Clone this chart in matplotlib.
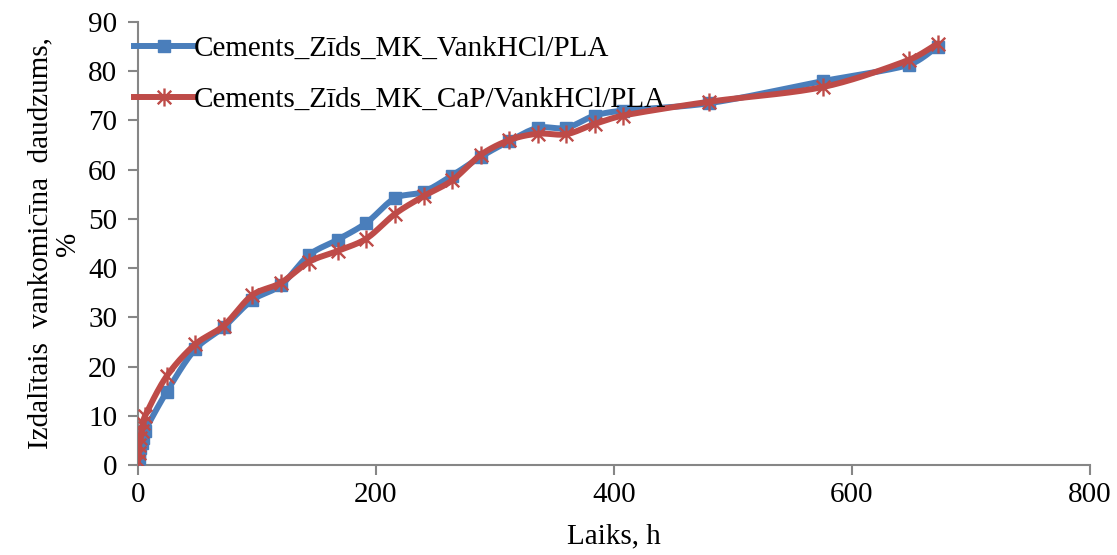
import numpy as np
import matplotlib
matplotlib.use("Agg")
import matplotlib.pyplot as plt
from matplotlib.path import Path
from matplotlib.lines import Line2D

plt.rcParams['font.family'] = ['Liberation Serif', 'DejaVu Serif']

hours = [0, 0.5, 1, 2, 3, 4, 6, 24, 48, 72, 96, 120, 144, 168, 192, 216, 240,
         264, 288, 312, 336, 360, 384, 408, 480, 576, 648, 672]
blue_vals = [0.5, 1.5, 2.5, 3.5, 4.5, 5.5, 7.0, 14.8, 23.5, 28.0, 33.5, 36.5,
             42.7, 45.8, 49.2, 54.2, 55.5, 58.8, 62.6, 65.8, 68.5, 68.5, 71.0,
             72.0, 73.5, 78.0, 81.3, 85.0]
red_vals = [0.8, 2.5, 4.0, 5.5, 7.0, 8.5, 10.0, 18.0, 24.5, 28.3, 34.5, 37.0,
            41.3, 43.5, 46.0, 51.0, 54.6, 57.8, 63.0, 66.0, 67.3, 67.2, 69.3,
            71.0, 73.8, 76.8, 82.3, 85.6]
labels = ['Cements_Zīds_MK_VankHCl/PLA', 'Cements_Zīds_MK_CaP/VankHCl/PLA']
blue = '#4A7EBB'
red = '#BE4B48'

xlim = (0, 800)
ylim = (0, 90)
FS = 21

fig = plt.figure(figsize=(11.17, 5.55), dpi=100)
ax = fig.add_axes([0.1235, 0.1622, 0.8522, 0.7982])
ax.set_xlim(*xlim)
ax.set_ylim(*ylim)


def smooth(x, y, n=20, t=0.5):
    # Catmull-Rom style smoothing in display-like space
    x = np.asarray(x, float)
    y = np.asarray(y, float)
    sx = 952.0 / (xlim[1] - xlim[0])
    sy = 443.0 / (ylim[1] - ylim[0])
    P = np.column_stack([x * sx, y * sy])
    out = [P[0]]
    for i in range(len(P) - 1):
        p0 = P[i - 1] if i > 0 else P[i]
        p1 = P[i]
        p2 = P[i + 1]
        p3 = P[i + 2] if i + 2 < len(P) else P[i + 1]
        d1 = np.linalg.norm(p2 - p1)
        m1 = (p2 - p0) * t
        m2 = (p3 - p1) * t
        for m in (m1, m2):
            nm = np.linalg.norm(m)
            if nm > d1 and nm > 0:
                m *= d1 / nm
        c1 = p1 + m1 / 3.0
        c2 = p2 - m2 / 3.0
        s = np.linspace(0, 1, n)[1:, None]
        seg = ((1 - s) ** 3) * p1 + 3 * ((1 - s) ** 2) * s * c1 + 3 * (1 - s) * s ** 2 * c2 + s ** 3 * p2
        out.extend(seg)
    out = np.array(out)
    return out[:, 0] / sx, out[:, 1] / sy


ast_verts = [(0, -1), (0, 1), (-0.75, -0.75), (0.75, 0.75), (-0.75, 0.75), (0.75, -0.75)]
ast_codes = [Path.MOVETO, Path.LINETO] * 3
asterisk = Path(ast_verts, ast_codes)

bx, by = smooth(hours, blue_vals)
rx, ry = smooth(hours, red_vals)

LW = 4.3
ax.plot(bx, by, color=blue, lw=LW, solid_capstyle='round', zorder=2)
ax.plot(hours, blue_vals, linestyle='none', marker='s', ms=8.5, color=blue,
        mec=blue, zorder=3)
ax.plot(rx, ry, color=red, lw=LW, solid_capstyle='round', zorder=4)
ax.plot(hours, red_vals, linestyle='none', marker=asterisk, ms=13, mew=1.7,
        color=red, mec=red, zorder=5)

ax.set_xticks([0, 200, 400, 600, 800])
ax.set_yticks(np.arange(0, 91, 10))
for s in ['top', 'right']:
    ax.spines[s].set_visible(False)
for s in ['left', 'bottom']:
    ax.spines[s].set_color('#868686')
    ax.spines[s].set_linewidth(1.5)
ax.tick_params(axis='both', colors='#868686', length=7, width=1.5,
               labelsize=FS, labelcolor='black')
ax.tick_params(axis='x', pad=5)
ax.tick_params(axis='y', pad=8)

ax.set_xlabel('Laiks, h', fontsize=FS, labelpad=11)
ax.set_ylabel('Izdalītais  vankomicīna  daudzums,\n%', fontsize=FS,
              linespacing=1.1, labelpad=5)

handles = [
    Line2D([], [], color=blue, lw=LW, marker='s', ms=8.5),
    Line2D([], [], color=red, lw=LW, marker=asterisk, ms=13, mew=1.7),
]
ax.legend(handles, labels, loc='upper left', bbox_to_anchor=(-0.016, 0.996),
          frameon=False, fontsize=FS, handlelength=2.0, handletextpad=0.05,
          labelspacing=0.85, borderaxespad=0)

fig.savefig('out.png', dpi=100)
